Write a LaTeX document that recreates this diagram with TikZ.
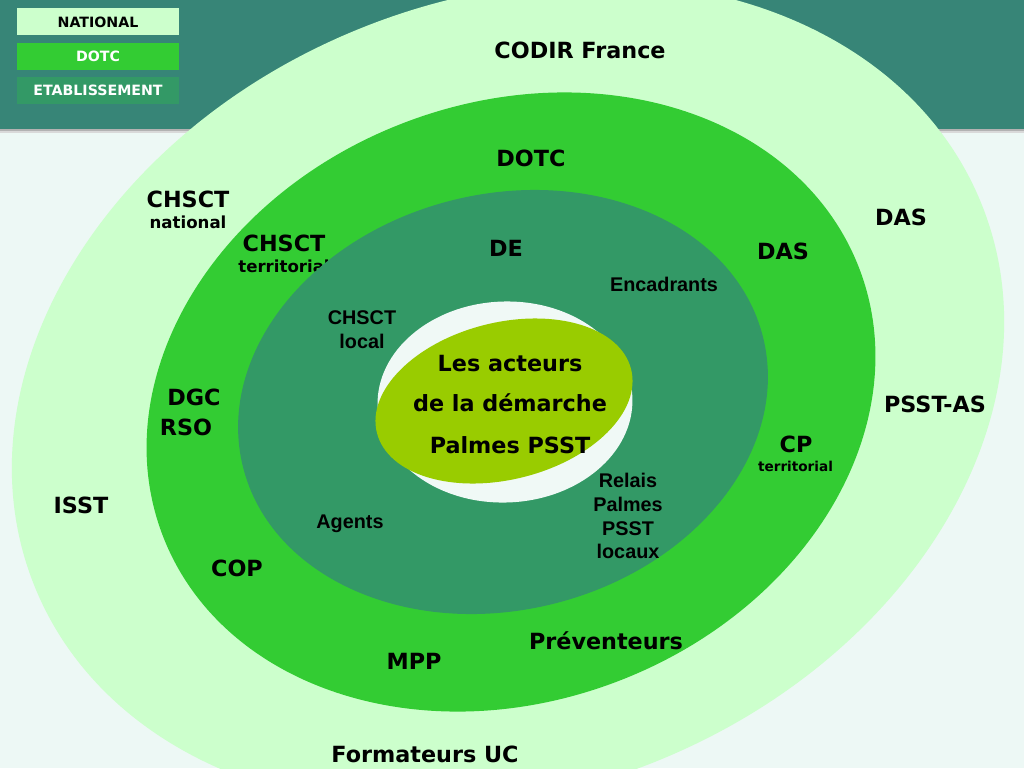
\documentclass[tikz,border=0pt]{standalone}
\usepackage{fontspec}
\setmainfont{DejaVu Sans}
\newfontfamily\arialf{Liberation Sans}
\definecolor{bgc}{HTML}{EDF8F5}
\definecolor{bandc}{HTML}{378577}
\definecolor{natc}{HTML}{CCFFCC}
\definecolor{dotcc}{HTML}{33CC33}
\definecolor{etabc}{HTML}{339966}
\definecolor{whitec}{HTML}{F0F9F6}
\definecolor{olivec}{HTML}{99CC00}
\begin{document}
\begin{tikzpicture}[x=1pt,y=-1pt,
  lbl/.style={font=\bfseries\fontsize{22.3}{22.3}\selectfont, text height=16.2pt, text depth=0pt, inner sep=0pt},
  mid/.style={font=\bfseries\fontsize{16.6}{16.6}\selectfont, text height=12.1pt, text depth=0pt, inner sep=0pt},
  sml/.style={font=\bfseries\fontsize{13.6}{13.6}\selectfont, text height=9.9pt, text depth=0pt, inner sep=0pt},
  arl/.style={font=\arialf\bfseries\fontsize{19.8}{19.8}\selectfont, text height=14.2pt, text depth=0pt, inner sep=0pt},
  legbox/.style={font=\bfseries\fontsize{14.2}{14.2}\selectfont, text height=10.4pt, text depth=0pt, inner sep=0pt, minimum width=162pt, minimum height=27pt}
]
\useasboundingbox (0,0) rectangle (1024,768);
% background and band
\fill[bgc] (0,0) rectangle (1024,768);
\fill[black!30] (0,128) rectangle (1024,131);
\fill[black!15] (0,131) rectangle (1024,133);
\fill[bandc] (0,0) rectangle (1024,128.5);
% legend
\node[legbox, fill=natc, text=black] (lnat) at (98,22) {NATIONAL};
\node[legbox, fill=dotcc, text=white] (ldotc) at (98,56.5) {DOTC};
\node[legbox, fill=etabc, text=white] (letab) at (98,90) {ETABLISSEMENT};
% outer ellipse
\fill[natc, rotate around={22:(508,395)}] (508,395) ellipse (510.6pt and 395.2pt);
\node[lbl] (codir) at (580,50.5) {CODIR France};
\node[lbl] (chn) at (188,199) {CHSCT};
\node[mid] (chnb) at (188,222) {national};
\node[lbl] (das1) at (901,217.5) {DAS};
\node[lbl] (psstas) at (935,404.5) {PSST-AS};
\node[lbl] (isst) at (81,505) {ISST};
\node[lbl] (form) at (425,754) {Formateurs UC};
% middle ellipse
\fill[dotcc, rotate around={21:(511,402)}] (511,402) ellipse (373pt and 299pt);
\node[lbl] (dotc) at (531,158) {DOTC};
\node[lbl] (cht) at (284,243) {CHSCT};
\node[mid] (chtb) at (284,266.5) {territorial};
\node[lbl] (das2) at (783,251) {DAS};
\node[lbl] (dgc) at (194,397) {DGC};
\node[lbl] (rso) at (186,427.5) {RSO};
\node[lbl] (cp) at (796,444) {CP};
\node[sml] (cpb) at (795.5,467) {territorial};
\node[lbl] (cop) at (237,568) {COP};
\node[lbl] (prev) at (606,641.5) {Préventeurs};
\node[lbl] (mpp) at (414,661) {MPP};
% inner ellipse
\fill[etabc, rotate around={14:(503,402)}] (503,402) ellipse (268pt and 208pt);
\node[lbl] (de) at (506,248) {DE};
\node[arl] (enc) at (664,284) {Encadrants};
\node[arl] (chl) at (362,317.5) {CHSCT};
\node[arl] (chlb) at (362,341) {local};
\node[arl] (rel1) at (628,480) {Relais};
\node[arl] (rel2) at (628,504.5) {Palmes};
\node[arl] (rel3) at (628,528) {PSST};
\node[arl] (rel4) at (628,551) {locaux};
\node[arl] (agents) at (350,521.5) {Agents};
% centre
\fill[whitec, rotate around={2:(505,402)}] (505,402) ellipse (127.5pt and 100.5pt);
\fill[olivec, rotate around={14:(504,401)}] (504,401) ellipse (131pt and 78.5pt);
\node[lbl] (c1) at (510,363) {Les acteurs};
\node[lbl] (c2) at (510,403.5) {de la démarche};
\node[lbl] (c3) at (510,445) {Palmes PSST};
\end{tikzpicture}
\end{document}
